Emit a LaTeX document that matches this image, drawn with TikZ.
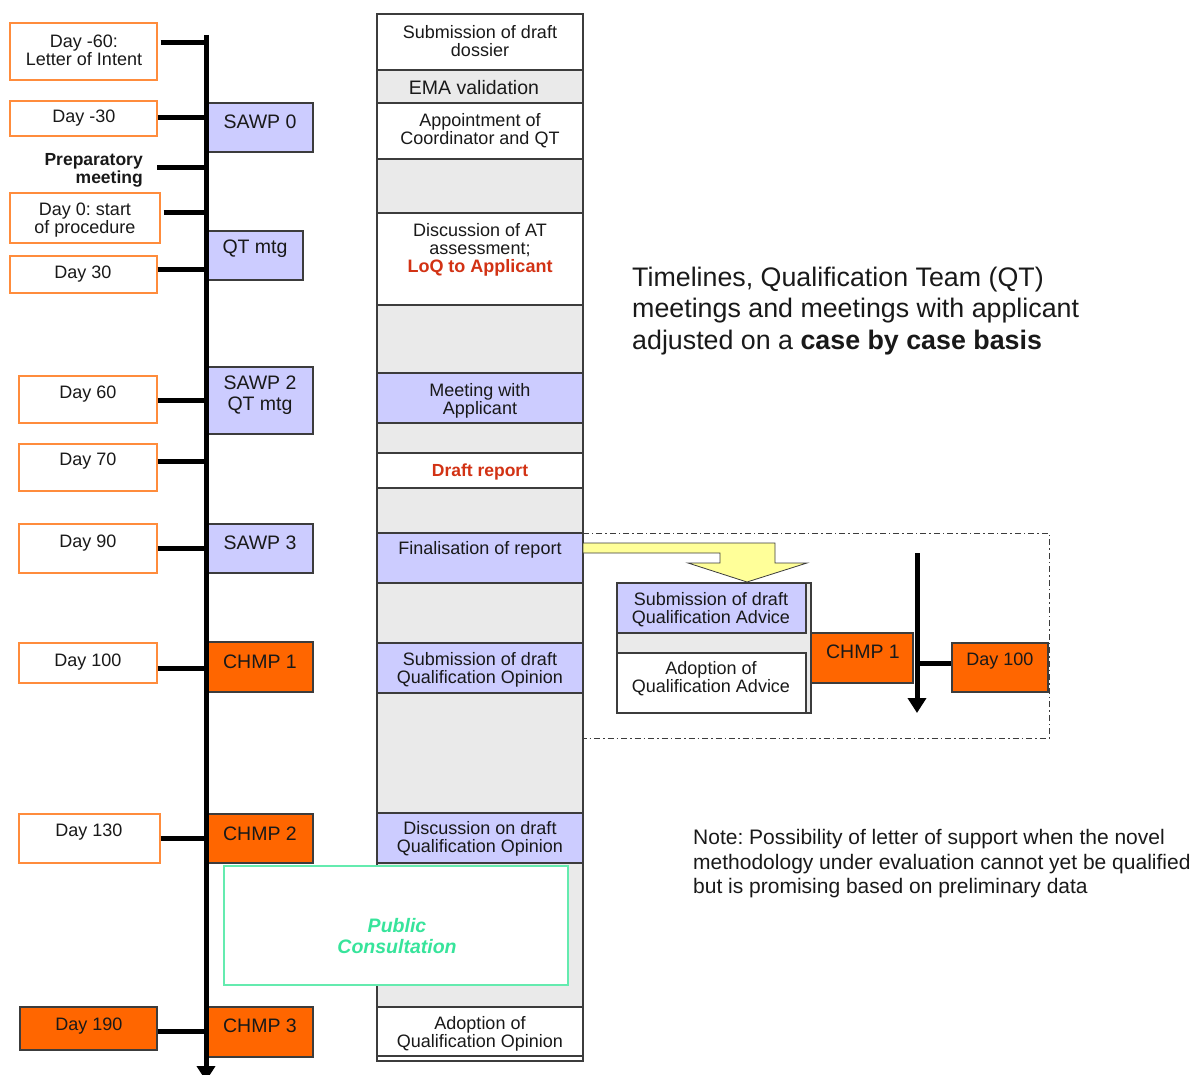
\documentclass[tikz,border=0pt]{standalone}
\usepackage{fontspec}
\setmainfont{Liberation Sans}
\usetikzlibrary{arrows.meta,fit}
\definecolor{lav}{RGB}{204,204,255}
\definecolor{org}{RGB}{255,102,0}
\definecolor{orgline}{RGB}{255,140,60}
\definecolor{grayrow}{RGB}{234,234,234}
\definecolor{edge}{RGB}{60,60,60}
\definecolor{redtxt}{RGB}{210,50,20}
\definecolor{aqua}{RGB}{100,235,175}
\definecolor{aquatxt}{RGB}{55,228,155}
\definecolor{yel}{RGB}{255,255,153}
\definecolor{ink}{RGB}{25,25,25}
\newcommand\rbox[6]{\node[#2, fit={(#3,#4)(#5,#6)}] (#1) {};}
\frenchspacing
\begin{document}
\begin{tikzpicture}[x=1pt,y=-1pt,
  daybox/.style={draw=orgline, line width=1.3pt, fill=white, inner sep=0pt},
  orgbox/.style={draw=edge, line width=1.3pt, fill=org, inner sep=0pt},
  lavbox/.style={draw=edge, line width=1.3pt, fill=lav, inner sep=0pt},
  whitebox/.style={draw=edge, line width=1.3pt, fill=white, inner sep=0pt},
  graybox/.style={draw=edge, line width=1.3pt, fill=grayrow, inner sep=0pt},
  txt/.style={font=\fontsize{18}{18}\selectfont, align=center, inner sep=0pt, text=ink, yshift=-2pt},
  sidetxt/.style={font=\fontsize{19.5}{21}\selectfont, align=center, inner sep=0pt, text=ink, yshift=-2pt},
  redbold/.style={font=\fontsize{17.5}{18}\selectfont\bfseries, text=redtxt},
  tick/.style={line width=5pt},
  bigarrow/.style={line width=5pt, -{Triangle[width=18pt,length=15pt]}}
]
\useasboundingbox (0,0) rectangle (1200,1075);

% ---------- middle column ----------
\rbox{m1}{whitebox}{377}{14}{583}{70}
\rbox{m2}{graybox}{377}{70}{583}{103}
\rbox{m3}{whitebox}{377}{103}{583}{159}
\rbox{m4}{graybox}{377}{159}{583}{213}
\rbox{m5}{whitebox}{377}{213}{583}{305}
\rbox{m6}{graybox}{377}{305}{583}{373}
\rbox{m7}{lavbox}{377}{373}{583}{423}
\rbox{m8}{graybox}{377}{423}{583}{453}
\rbox{m9}{whitebox}{377}{453}{583}{488}
\rbox{m10}{graybox}{377}{488}{583}{533}
\rbox{m11}{lavbox}{377}{533}{583}{583}
\rbox{m12}{graybox}{377}{583}{583}{643}
\rbox{m13}{lavbox}{377}{643}{583}{693}
\rbox{m14}{graybox}{377}{693}{583}{813}
\rbox{m15}{lavbox}{377}{813}{583}{863}
\rbox{m16}{graybox}{377}{863}{583}{1007}
\rbox{m17}{whitebox}{377}{1007}{583}{1056}
\rbox{m18}{whitebox}{377}{1056}{583}{1061}

\node[txt] (m1t) at (480,39.5) {Submission of draft\\dossier};
\node[txt, font=\fontsize{19.5}{20}\selectfont] (m2t) at (474,86) {EMA validation};
\node[txt] (m3t) at (480,129) {Appointment of\\Coordinator and QT};
\node[txt] (m5t) at (480,247.5) {Discussion of AT\\assessment;\\{\color{redtxt}\bfseries LoQ to Applicant}};
\node[txt] (m7t) at (480,398.5) {Meeting with\\Applicant};
\node[txt, redbold] (m9t) at (480,470) {Draft report};
\node[txt] (m11t) at (480,548) {Finalisation of report};
\node[txt] (m13t) at (480,668) {Submission of draft\\Qualification Opinion};
\node[txt] (m15t) at (480,837) {Discussion on draft\\Qualification Opinion};
\node[txt] (m17t) at (480,1032) {Adoption of\\Qualification Opinion};

% ---------- public consultation ----------
\rbox{pc}{draw=aqua, line width=1.5pt, fill=white, inner sep=0pt}{224}{866}{568}{985}
\node[txt, font=\fontsize{19.5}{21}\selectfont\bfseries\itshape, text=aquatxt] (pct) at (397,934) {Public\\Consultation};

% ---------- left day boxes ----------
\rbox{d1}{daybox}{10}{23}{157}{80}
\rbox{d2}{daybox}{10}{101}{157}{136}
\rbox{d4}{daybox}{10}{193}{160}{243}
\rbox{d5}{daybox}{10}{256}{157}{293}
\rbox{d6}{daybox}{19}{376}{157}{423}
\rbox{d7}{daybox}{19}{444}{157}{491}
\rbox{d8}{daybox}{19}{524}{157}{573}
\rbox{d9}{daybox}{19}{643}{157}{683}
\rbox{d10}{daybox}{19}{814}{160}{863}
\rbox{d11}{orgbox}{20}{1007}{157}{1050}

\node[txt] (d1t) at (84,48) {Day -60:\\Letter of Intent};
\node[txt] (d2t) at (84,116) {Day -30};
\node[txt, font=\fontsize{17.5}{18}\selectfont\bfseries, align=right, anchor=east] (d3t) at (143,168) {Preparatory\\meeting};
\node[txt] (d4t) at (85,218) {Day 0: start\\of procedure};
\node[txt] (d5t) at (83,272) {Day 30};
\node[txt] (d6t) at (88,392) {Day 60};
\node[txt] (d7t) at (88,459) {Day 70};
\node[txt] (d8t) at (88,541) {Day 90};
\node[txt] (d9t) at (88,660) {Day 100};
\node[txt] (d10t) at (89,830) {Day 130};
\node[txt] (d11t) at (89,1024) {Day 190};

% ---------- boxes right of the timeline ----------
\rbox{s1}{lavbox}{208}{103}{313}{152}
\rbox{s2}{lavbox}{208}{231}{303}{280}
\rbox{s3}{lavbox}{208}{367}{313}{434}
\rbox{s4}{lavbox}{208}{524}{313}{573}
\rbox{c1}{orgbox}{208}{642}{313}{692}
\rbox{c2}{orgbox}{208}{814}{313}{863}
\rbox{c3}{orgbox}{208}{1007}{313}{1057}

\node[sidetxt] (s1t) at (260,120) {SAWP 0};
\node[sidetxt] (s2t) at (255,247) {QT mtg};
\node[sidetxt] (s3t) at (260,393.5) {SAWP 2\\QT mtg};
\node[sidetxt] (s4t) at (260,541) {SAWP 3};
\node[sidetxt] (c1t) at (260,660) {CHMP 1};
\node[sidetxt] (c2t) at (260,832) {CHMP 2};
\node[sidetxt] (c3t) at (260,1024) {CHMP 3};

% ---------- timeline ----------
\coordinate (tltop) at (206,35);
\coordinate (tlbot) at (206,1081);
\coordinate (t1) at (206,43);
\coordinate (t2) at (206,118);
\coordinate (t3) at (206,168);
\coordinate (t4) at (206,213);
\coordinate (t5) at (206,270);
\coordinate (t6) at (206,400);
\coordinate (t7) at (206,461);
\coordinate (t8) at (206,548);
\coordinate (t9) at (206,668);
\coordinate (t10) at (206,838);
\coordinate (t11) at (206,1031);
\coordinate (p3) at (157,168);
\draw[bigarrow] (tltop) -- (tlbot);
\draw[tick] ([xshift=3pt]t1 -| d1.east) -- (t1);
\draw[tick] (t2 -| d2.east) -- (t2);
\draw[tick] (p3) -- (t3);
\draw[tick] ([xshift=3pt]t4 -| d4.east) -- (t4);
\draw[tick] (t5 -| d5.east) -- (t5);
\draw[tick] (t6 -| d6.east) -- (t6);
\draw[tick] (t7 -| d7.east) -- (t7);
\draw[tick] (t8 -| d8.east) -- (t8);
\draw[tick] (t9 -| d9.east) -- (t9);
\draw[tick] (t10 -| d10.east) -- (t10);
\draw[tick] (t11 -| d11.east) -- (t11);

% ---------- qualification advice inset ----------
\draw[edge, line width=1pt, dash pattern=on 6pt off 3pt on 1.5pt off 3pt] (583,533) rectangle (1049,738);
\filldraw[fill=yel, draw=edge, line width=0.8pt]
  (583,543) -- (775,543) -- (775,563) -- (807,563) -- (747,582) -- (688,563) -- (720,563) -- (720,553) -- (583,553) -- cycle;

\rbox{qa}{graybox}{617}{583}{811}{713}
\rbox{qa1}{lavbox}{617}{583}{806}{633}
\rbox{qa2}{whitebox}{617}{653}{806}{713}
\node[txt] (qa1t) at (711,608) {Submission of draft\\Qualification Advice};
\node[txt] (qa2t) at (711,677) {Adoption of\\Qualification Advice};
\rbox{rc1}{orgbox}{811}{633}{913}{683}
\node[sidetxt] (rc1t) at (863,650) {CHMP 1};
\rbox{rd}{orgbox}{952}{643}{1048}{692}
\node[txt] (rdt) at (1000,659) {Day 100};
\coordinate (rtop) at (917,553);
\coordinate (rbot) at (917,713);
\coordinate (rt) at (917,663);
\draw[bigarrow] (rtop) -- (rbot);
\draw[tick] (rt) -- (rt -| rd.west);

% ---------- texts on the right ----------
\node[anchor=west, align=left, inner sep=0pt, text=ink, font=\fontsize{26.8}{31.5}\selectfont] (tlnote) at (632,311)
  {Timelines, Qualification Team (QT)\\meetings and meetings with applicant\\adjusted on a \textbf{case by case basis}};
\node[anchor=west, align=left, inner sep=0pt, text=ink, font=\fontsize{21}{24.5}\selectfont] (note) at (693,864)
  {Note: Possibility of letter of support when the novel\\methodology under evaluation cannot yet be qualified\\but is promising based on preliminary data};
\end{tikzpicture}
\end{document}
